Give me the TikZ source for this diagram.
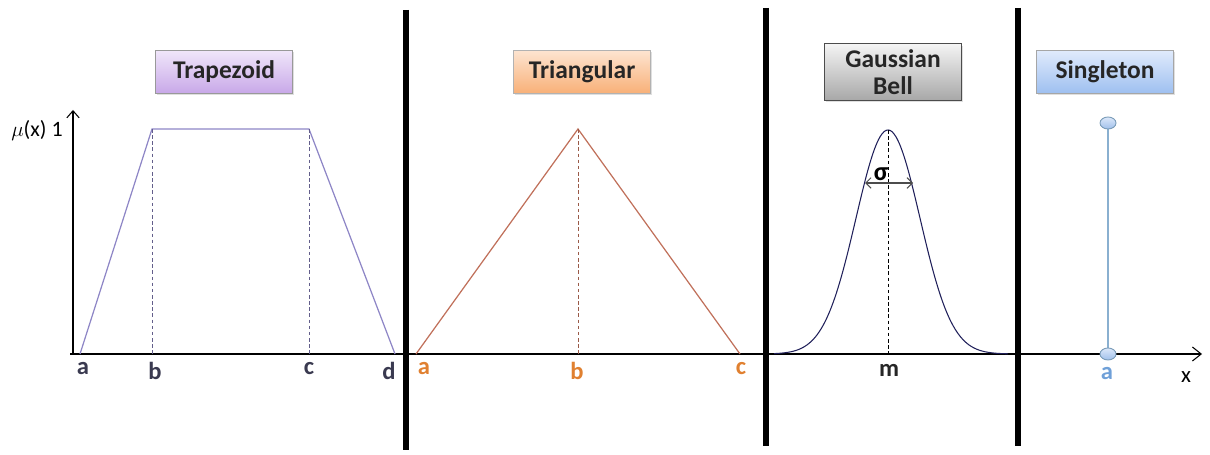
\documentclass[tikz,border=0pt]{standalone}
\usepackage{fontspec}
\setmainfont{Carlito}
\usetikzlibrary{arrows.meta,shadows}
\definecolor{trapline}{HTML}{8E86C6}
\definecolor{triline}{HTML}{C0705A}
\definecolor{gaussline}{HTML}{20205A}
\definecolor{singline}{HTML}{8AB0D0}
\definecolor{traplab}{HTML}{3A3A50}
\definecolor{trilab}{HTML}{E08030}
\definecolor{singlab}{HTML}{6FA0D8}
\newlength{\pxu}
\setlength{\pxu}{0.5669pt}
\tikzset{
  titlebox/.style={draw=#1, line width=0.6pt, minimum width=138\pxu, minimum height=43\pxu,
    font=\fontsize{14.5}{13}\selectfont\bfseries, text=black!85, align=center,
    drop shadow={shadow xshift=1pt, shadow yshift=-1pt, opacity=0.25}},
  axlab/.style={font=\fontsize{14}{14}\selectfont\bfseries, anchor=north},
  divider/.style={line width=3pt, black},
  dashv/.style={dashed, dash pattern=on 2pt off 1.5pt, line width=0.5pt},
}
\begin{document}
\begin{tikzpicture}[x=0.02cm, y=-0.02cm]
\useasboundingbox (0,0) rectangle (1210,455);
% dividers
\draw[divider] (406,10) -- (406,450);
\draw[divider] (766,8) -- (766,446);
\draw[divider] (1018,8) -- (1018,446);
% axes
\coordinate (origin) at (73,354);
\coordinate (ytop) at (73,110);
\coordinate (xstart) at (70,354);
\coordinate (xend) at (1202,354);
\draw[line width=0.6pt, -{Straight Barb[length=4pt,width=7pt]}] (origin) -- (ytop);
\draw[line width=0.6pt, -{Straight Barb[length=5pt,width=8pt]}] (xstart) -- (xend);
\node[font=\fontsize{12.5}{13}\selectfont] (mu) at (37,131) {$\mu$(x) 1};
\node[font=\fontsize{13}{14}\selectfont] (xlab) at (1186,377) {x};
% title boxes
\node[titlebox={black!40}, top color={rgb,255:red,240;green,230;blue,250}, bottom color={rgb,255:red,200;green,168;blue,232}] (trap) at (224,72) {Trapezoid};
\node[titlebox={black!30}, top color={rgb,255:red,253;green,228;blue,208}, bottom color={rgb,255:red,248;green,176;blue,120}] (tri) at (582,72) {Triangular};
\node[titlebox={black!70}, top color={rgb,255:red,244;green,244;blue,244}, bottom color={rgb,255:red,168;green,168;blue,168}, font=\fontsize{14.5}{15}\selectfont\bfseries] (gauss) at (893,72) {Gaussian\\Bell};
\node[titlebox={black!35}, top color={rgb,255:red,224;green,234;blue,252}, bottom color={rgb,255:red,158;green,192;blue,240}] (single) at (1105,72) {Singleton};
% trapezoid
\coordinate (ta) at (80,354);
\coordinate (tb) at (152,129);
\coordinate (tc) at (309,129);
\coordinate (td) at (395,354);
\coordinate (tbb) at (152,354);
\coordinate (tcb) at (309,354);
\draw[trapline, line width=0.7pt] (ta) -- (tb) -- (tc) -- (td);
\draw[dashv, trapline!70!black] (tb) -- (tbb);
\draw[dashv, trapline!70!black] (tc) -- (tcb);
\node[axlab, traplab] (la) at (83,356) {a};
\node[axlab, traplab] (lb) at (155,356) {b};
\node[axlab, traplab] (lc) at (309,356) {c};
\node[axlab, traplab] (ld) at (389,356) {d};
% triangle
\coordinate (ra) at (416,354);
\coordinate (rb) at (578,129);
\coordinate (rc) at (740,354);
\coordinate (rbb) at (578,354);
\draw[triline, line width=0.7pt] (ra) -- (rb) -- (rc);
\draw[dashv, triline!80!black] (rb) -- (rbb);
\node[axlab, trilab] (ma) at (424,356) {a};
\node[axlab, trilab] (mb) at (577,356) {b};
\node[axlab, trilab] (mc) at (741,356) {c};
% gaussian
\draw[gaussline, line width=0.6pt, domain=-114:120, samples=120, smooth] plot ({888+\x}, {354-224*exp(-(\x*\x)/(2*32*32))});
\coordinate (gt) at (888,130);
\coordinate (gb) at (888,354);
\draw[dashv, black] (gt) -- (gb);
\coordinate (sl) at (865,183);
\coordinate (sr) at (913,183);
\draw[black!70, line width=0.6pt, {Straight Barb[length=3pt,width=6pt]}-{Straight Barb[length=3pt,width=6pt]}] (sl) -- (sr);
\node[font=\fontsize{15}{15}\selectfont\bfseries] (sigma) at (881,174) {σ};
\node[axlab, black!85] (mm) at (889,358) {m};
% singleton
\coordinate (sa) at (1108,354);
\coordinate (st) at (1108,123);
\draw[singline, line width=0.9pt] (st) -- (sa);
\filldraw[draw=singline!90!black, top color={rgb,255:red,220;green,232;blue,250}, bottom color={rgb,255:red,160;green,192;blue,235}, line width=0.5pt] (st) ellipse (8 and 6);
\filldraw[draw=singline!90!black, top color={rgb,255:red,220;green,232;blue,250}, bottom color={rgb,255:red,160;green,192;blue,235}, line width=0.5pt] (sa) ellipse (8 and 6);
\node[axlab, singlab] (sla) at (1107,361) {a};
\end{tikzpicture}
\end{document}
